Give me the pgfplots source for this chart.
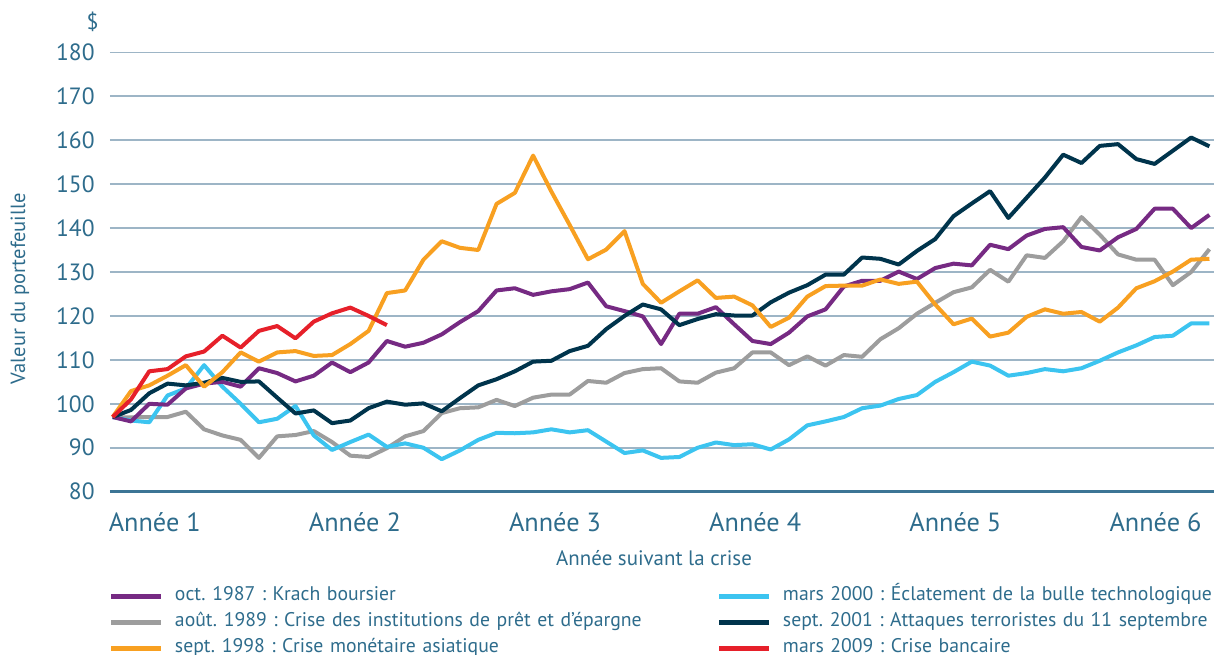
\documentclass[border=0pt]{standalone}
\usepackage{pgfplots}
\pgfplotsset{compat=1.18}
\usepackage{pgfplotstable}
\usepackage{fontspec}
\setmainfont{PT Sans}
\frenchspacing

\definecolor{cpurple}{HTML}{762A83}
\definecolor{cgray}{HTML}{9D9D9D}
\definecolor{corange}{HTML}{F8A021}
\definecolor{cblue}{HTML}{3CC4F0}
\definecolor{cnavy}{HTML}{00344C}
\definecolor{cred}{HTML}{E6202A}
\definecolor{ctext}{HTML}{2E6C8C}
\definecolor{cgrid}{HTML}{9DB5C6}
\definecolor{caxis}{HTML}{3C7595}

\pgfplotstableread{
i purple gray orange blue navy
0 97 97 97 97 97
1 96 96.9 102.9 96.2 98.6
2 100 97 104.2 95.8 102.4
3 99.8 97 106.4 101.9 104.6
4 103.5 98.2 108.8 103.5 104.2
5 104.6 94.2 103.9 108.8 104.8
6 105.0 92.8 107.2 103.9 105.9
7 103.9 91.8 111.7 100 105
8 108.1 87.7 109.6 95.8 105.1
9 107 92.6 111.7 96.6 101.4
10 105.1 92.9 112.0 99.5 97.8
11 106.4 93.8 110.9 92.8 98.5
12 109.4 91.3 111.1 89.5 95.6
13 107.2 88.2 113.6 91.3 96.2
14 109.4 87.9 116.6 93.0 99.0
15 114.3 89.9 125.2 90.2 100.5
16 113.0 92.6 125.8 91.0 99.8
17 113.9 93.8 132.8 90 100.1
18 115.8 97.9 137.0 87.4 98.3
19 118.6 99.0 135.5 89.4 101.3
20 121.1 99.2 135.0 91.8 104.2
21 125.8 100.9 145.5 93.4 105.6
22 126.3 99.5 148 93.3 107.4
23 124.8 101.4 156.5 93.5 109.6
24 125.6 102.1 148.3 94.2 109.8
25 126.1 102.1 140.7 93.5 112
26 127.6 105.2 132.9 94 113.2
27 122.2 104.8 135.1 91.4 117.0
28 121.1 107.0 139.3 88.8 120
29 119.9 107.9 127.3 89.4 122.6
30 113.6 108.1 123 87.7 121.5
31 120.5 105.1 125.6 87.9 117.9
32 120.5 104.8 128.1 90 119.3
33 122 107.1 124.1 91.2 120.4
34 118.1 108.1 124.4 90.6 120.1
35 114.3 111.7 122.4 90.8 120.1
36 113.6 111.7 117.5 89.6 123.1
37 116.2 108.8 119.6 91.9 125.3
38 119.9 110.8 124.4 95.1 127
39 121.5 108.7 126.8 96.0 129.4
40 126.7 111.1 126.9 97.0 129.4
41 128.0 110.7 126.9 99.0 133.3
42 128.0 114.7 128.3 99.6 133.0
43 130.1 117.2 127.3 101.1 131.7
44 128.4 120.5 127.8 102.0 134.8
45 130.9 123 122.6 105 137.5
46 131.9 125.4 118.1 107.2 142.7
47 131.5 126.5 119.4 109.6 145.6
48 136.2 130.5 115.3 108.7 148.4
49 135.2 127.8 116.2 106.4 142.3
50 138.3 133.8 119.8 107.0 146.9
51 139.8 133.2 121.5 107.9 151.5
52 140.2 137 120.5 107.4 156.7
53 135.7 142.5 120.9 108.1 154.8
54 134.9 138.5 118.7 109.8 158.7
55 137.9 134 121.9 111.7 159.1
56 139.8 132.8 126.3 113.3 155.7
57 144.4 132.8 127.9 115.2 154.6
58 144.4 127 130.1 115.5 157.6
59 140.0 130 132.8 118.3 160.6
60 143.0 135.2 133.0 118.3 158.6
}\datamain

\pgfplotstableread{
i red
0 97
1 101
2 107.4
3 107.9
4 110.8
5 111.9
6 115.5
7 112.8
8 116.6
9 117.7
10 114.9
11 118.7
12 120.6
13 121.9
14 120
15 117.9
}\datared

\begin{document}
\begin{tikzpicture}
\useasboundingbox (-55bp,-81.65bp) rectangle (552bp,245.85bp);
\begin{axis}[
  name=ax,
  at={(0,0)}, anchor=south west,
  scale only axis, width=552bp, height=219.7bp,
  xmin=-0.148, xmax=60.25, ymin=80, ymax=180,
  ytick={80,90,...,180},
  xtick={2.3,13.25,24.2,35.15,46.1,57.05},
  xticklabels={Année 1,Année 2,Année 3,Année 4,Année 5,Année 6},
  ymajorgrids, grid style={cgrid, line width=0.75bp},
  axis x line*=bottom, axis y line*=left,
  x axis line style={caxis, line width=1.5bp, -},
  y axis line style={draw=none},
  major tick length=0pt,
  tick style={draw=none},
  /pgf/number format/assume math mode=true,
  yticklabel style={font=\fontsize{11.8}{12}\selectfont, text=ctext, anchor=east, inner sep=0pt, xshift=-7.5bp},
  xticklabel style={font=\fontsize{13.2}{14}\selectfont, text=ctext, anchor=base, inner sep=0pt, yshift=-19.65bp},
  xlabel={Année suivant la crise},
  xlabel style={font=\fontsize{10.5}{12}\selectfont, text=ctext, at={(axis description cs:0.4928,-0.150)}, anchor=center},
  ylabel={Valeur du portefeuille},
  ylabel style={font=\fontsize{10.3}{12}\selectfont, text=ctext, at={(axis description cs:-0.0815,0.462)}, anchor=center},
  legend columns=2,
  legend cell align=left,
  legend image code/.code={\draw[#1, line width=2.5bp] (0bp,0bp) -- (25bp,0bp);},
  legend style={at={(0,0)}, anchor=north west, xshift=-0.5bp, yshift=-45.8bp,
    draw=none, fill=none, inner sep=0pt, outer sep=0pt, column sep=0pt, row sep=0pt,
    font=\fontsize{9.9}{11}\selectfont, text=ctext,
    nodes={inner xsep=5.5bp, inner ysep=0pt, text height=8.5bp, text depth=4.5bp, text width=265.5bp}},
  every axis plot/.append style={line width=2bp, line join=round},
]
\addplot[cgray, forget plot] table[x=i, y=gray] {\datamain};
\addplot[cblue, forget plot] table[x=i, y=blue] {\datamain};
\addplot[cpurple, forget plot] table[x=i, y=purple] {\datamain};
\addplot[cnavy, forget plot] table[x=i, y=navy] {\datamain};
\addplot[corange, forget plot] table[x=i, y=orange] {\datamain};
\addplot[cred, forget plot] table[x=i, y=red] {\datared};

\addlegendimage{cpurple}\addlegendentry{oct. 1987 : Krach boursier}
\addlegendimage{cblue}\addlegendentry{mars 2000 : Éclatement de la bulle technologique}
\addlegendimage{cgray}\addlegendentry{août. 1989 : Crise des institutions de prêt et d’épargne}
\addlegendimage{cnavy}\addlegendentry{sept. 2001 : Attaques terroristes du 11 septembre}
\addlegendimage{corange}\addlegendentry{sept. 1998 : Crise monétaire asiatique}
\addlegendimage{cred}\addlegendentry{mars 2009 : Crise bancaire}
\end{axis}
\node[text=ctext, font=\fontsize{11}{12}\selectfont, inner sep=0pt] at ([xshift=-8.65bp, yshift=15.3bp]ax.north west) {\$};
\end{tikzpicture}
\end{document}
